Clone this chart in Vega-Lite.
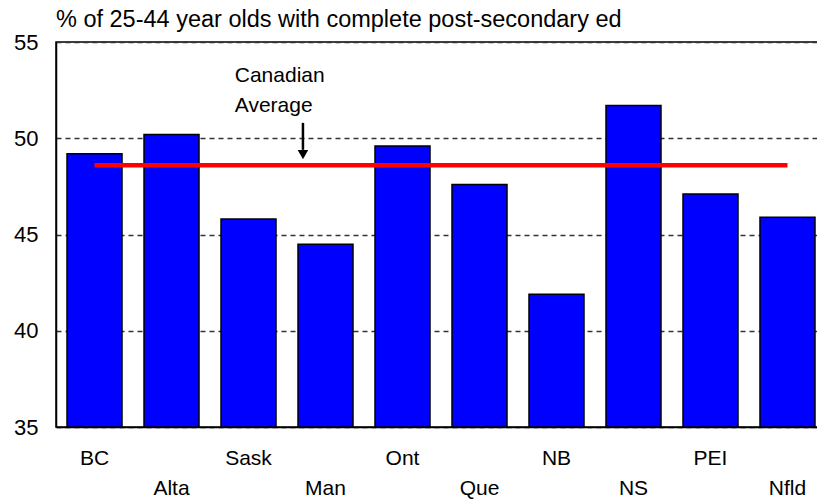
{
  "$schema": "https://vega.github.io/schema/vega-lite/v6.json",
  "autosize": {"type": "none"},
  "padding": {"left": 56, "top": 42, "right": 0, "bottom": 72},
  "width": 770,
  "height": 385,
  "background": "white",
  "config": {
    "font": "Liberation Sans",
    "view": {"stroke": "black", "strokeWidth": 1.5}
  },
  "title": {
    "text": "% of 25-44 year olds with complete post-secondary ed",
    "anchor": "start",
    "frame": "group",
    "fontSize": 23.5,
    "fontWeight": "normal",
    "color": "black",
    "font": "Liberation Sans",
    "baseline": "alphabetic",
    "offset": -19
  },
  "data": {
    "values": [
      {"province": "BC", "pct": 49.2},
      {"province": "Alta", "pct": 50.2},
      {"province": "Sask", "pct": 45.8},
      {"province": "Man", "pct": 44.5},
      {"province": "Ont", "pct": 49.6},
      {"province": "Que", "pct": 47.6},
      {"province": "NB", "pct": 41.9},
      {"province": "NS", "pct": 51.7},
      {"province": "PEI", "pct": 47.1},
      {"province": "Nfld", "pct": 45.9}
    ]
  },
  "encoding": {
    "x": {
      "field": "province",
      "type": "nominal",
      "sort": null,
      "scale": {"paddingInner": 0.2857, "paddingOuter": 0.143},
      "axis": {
        "title": null,
        "labelAngle": 0,
        "ticks": false,
        "domainColor": "black",
        "domainWidth": 1.5,
        "labelFontSize": 21,
        "labelColor": "black",
        "labelPadding": 20,
        "labelLineHeight": 30,
        "labelBaseline": "top",
        "labelExpr": "indexof(['Alta','Man','Que','NS','Nfld'], datum.value) >= 0 ? ['', datum.value] : datum.value"
      }
    }
  },
  "layer": [
    {
      "mark": {"type": "bar", "fill": "#0000ff", "stroke": "black", "strokeWidth": 1.5},
      "encoding": {
        "y": {
          "field": "pct",
          "type": "quantitative",
          "scale": {"domain": [35, 55], "zero": false, "nice": false},
          "axis": {
            "title": null,
            "values": [35, 40, 45, 50, 55],
            "ticks": false,
            "grid": true,
            "gridDash": [5, 4],
            "gridColor": "#333333",
            "gridWidth": 1.5,
            "domainColor": "black",
            "domainWidth": 1.5,
            "labelFontSize": 22,
            "labelColor": "black",
            "labelPadding": 18
          }
        },
        "y2": {"datum": 35}
      }
    },
    {
      "mark": {"type": "line", "stroke": "#ff0000", "strokeWidth": 4.5},
      "encoding": {
        "y": {"datum": 48.6, "type": "quantitative"}
      }
    },
    {
      "data": {"values": [{"note": "Canadian Average"}]},
      "mark": {"type": "text", "align": "left", "baseline": "alphabetic", "fontSize": 21, "fontWeight": "normal", "lineHeight": 30, "fill": "black", "stroke": null},
      "encoding": {
        "x": {"datum": "Sask", "bandPosition": 0.25},
        "y": {"datum": 52.9, "type": "quantitative"},
        "text": {"value": ["Canadian", "Average"]}
      }
    },
    {
      "data": {"values": [{"note": "arrow"}]},
      "mark": {"type": "rule", "stroke": "black", "strokeWidth": 2.5},
      "encoding": {
        "x": {"datum": "Man", "bandPosition": 0.09},
        "y": {"datum": 50.8, "type": "quantitative"},
        "y2": {"datum": 49.4}
      }
    },
    {
      "data": {"values": [{"note": "arrowhead"}]},
      "mark": {"type": "point", "shape": "triangle-down", "filled": true, "fill": "black", "stroke": null, "size": 110, "opacity": 1},
      "encoding": {
        "x": {"datum": "Man", "bandPosition": 0.09},
        "y": {"datum": 49.15, "type": "quantitative"}
      }
    }
  ]
}
